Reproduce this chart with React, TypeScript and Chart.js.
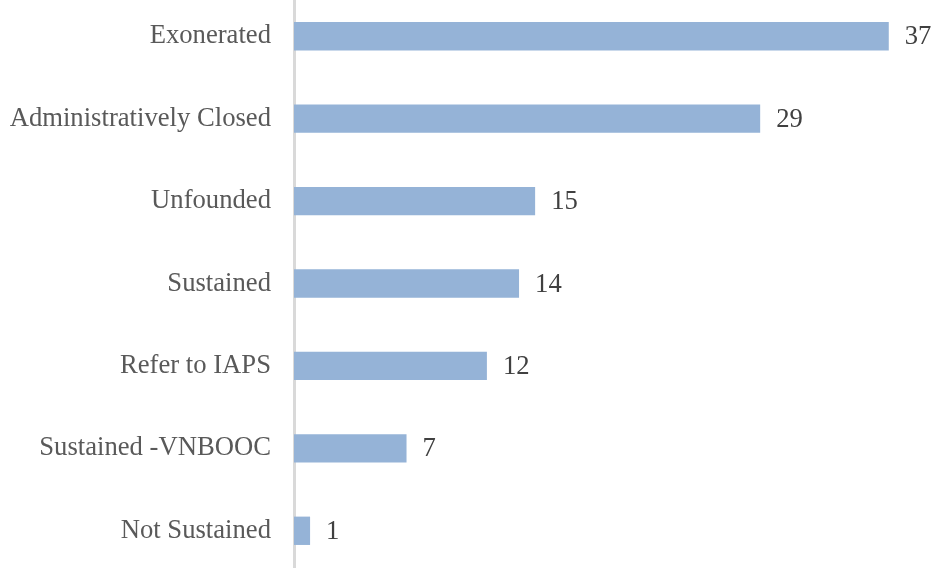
import React, { useEffect, useRef } from "react";
import { Chart, registerables } from "chart.js";

Chart.register(...registerables);

const categories = [
  "Exonerated",
  "Administratively Closed",
  "Unfounded",
  "Sustained",
  "Refer to IAPS",
  "Sustained -VNBOOC",
  "Not Sustained",
];
const counts = [37, 29, 15, 14, 12, 7, 1];

const FONT = "'Liberation Serif', 'Times New Roman', serif";
const FONT_SIZE = 26.67;

const valueLabels = {
  id: "valueLabels",
  afterDatasetsDraw(chart: any) {
    const ctx = chart.ctx;
    const meta = chart.getDatasetMeta(0);
    ctx.save();
    ctx.font = `${FONT_SIZE}px ${FONT}`;
    ctx.fillStyle = "#404040";
    ctx.textAlign = "left";
    ctx.textBaseline = "middle";
    meta.data.forEach((bar: any, i: number) => {
      ctx.fillText(String(counts[i]), bar.x + 16, bar.y + 1);
    });
    ctx.restore();
  },
};

export default function App() {
  const ref = useRef<HTMLCanvasElement>(null);
  useEffect(() => {
    if (!ref.current) return;
    const chart = new Chart(ref.current, {
      type: "bar",
      data: {
        labels: categories,
        datasets: [
          {
            data: counts,
            backgroundColor: "#95B3D7",
            borderWidth: 0,
            barPercentage: 0.344,
            categoryPercentage: 1,
          },
        ],
      },
      options: {
        indexAxis: "y",
        animation: false,
        responsive: false,
        maintainAspectRatio: false,
        layout: { padding: 0, autoPadding: false },
        plugins: {
          legend: { display: false },
          tooltip: { enabled: false },
        },
        scales: {
          x: {
            display: false,
            min: 0,
            max: 40,
          },
          y: {
            grid: { display: false, drawTicks: false },
            border: { display: true, color: "#d9d9d9", width: 3 },
            ticks: {
              padding: 23,
              color: "#595959",
              font: { family: FONT, size: FONT_SIZE },
            },
            afterFit(scale: any) {
              scale.width = 294;
              scale.paddingTop = 0;
              scale.paddingBottom = 0;
            },
          },
        },
      },
      plugins: [valueLabels],
    });
    return () => chart.destroy();
  }, []);
  return (
    <div
      style={{
        position: "fixed",
        left: 0,
        top: 0,
        width: 937,
        height: 568,
        overflow: "hidden",
        background: "#fff",
      }}
    >
      <canvas
        ref={ref}
        width={937}
        height={577}
        style={{ position: "absolute", left: 0, top: -5, width: 937, height: 577 }}
      />
    </div>
  );
}
